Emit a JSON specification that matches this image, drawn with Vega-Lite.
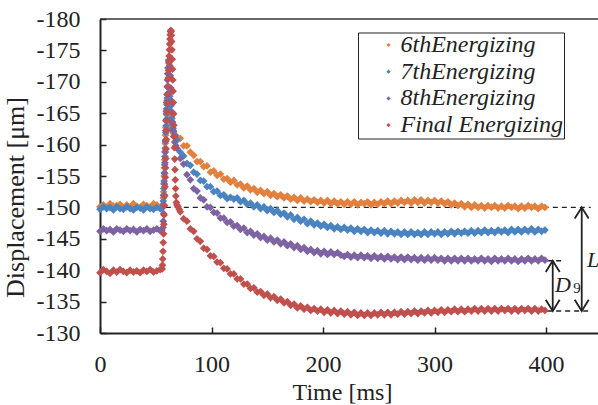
{
  "$schema": "https://vega.github.io/schema/vega-lite/v6.json",
  "width": 498,
  "height": 314,
  "autosize": {"type": "none"},
  "padding": {"left": 100, "top": 19, "right": 0, "bottom": 72},
  "background": "white",
  "config": {
    "view": {"stroke": null},
    "font": "Liberation Serif",
    "axis": {"grid": false, "domainColor": "#222", "domainWidth": 2, "tickColor": "#222", "tickWidth": 1.5, "tickSize": -6, "labelFont": "Liberation Serif", "labelFontSize": 24, "labelColor": "#222", "labelFlush": false, "labelOverlap": false, "titleFont": "Liberation Serif", "titleFontSize": 24, "titleFontWeight": "normal", "titleColor": "#222"}
  },
  "datasets": {
    "s6": [{"t":0,"v":-150.1},{"t":3,"v":-150.4},{"t":6,"v":-150.0},{"t":9,"v":-150.6},{"t":12,"v":-150.2},{"t":15,"v":-150.3},{"t":18,"v":-150.5},{"t":21,"v":-150.0},{"t":24,"v":-150.4},{"t":27,"v":-150.1},{"t":30,"v":-150.6},{"t":33,"v":-150.2},{"t":36,"v":-150.0},{"t":39,"v":-150.5},{"t":42,"v":-150.3},{"t":45,"v":-150.1},{"t":48,"v":-150.6},{"t":51,"v":-150.4},{"t":54,"v":-150.0},
      {"t":55.5,"v":-150.3},{"t":56.5,"v":-150.5},{"t":56.75,"v":-151.5},{"t":57,"v":-152.5},{"t":57.25,"v":-153.8},{"t":57.5,"v":-155.0},{"t":57.75,"v":-156.3},{"t":58,"v":-157.6},{"t":58.25,"v":-158.9},{"t":58.5,"v":-160.2},{"t":58.75,"v":-161.5},{"t":59,"v":-162.7},{"t":59.25,"v":-163.8},{"t":59.5,"v":-164.8},{"t":59.75,"v":-165.7},{"t":60,"v":-166.4},{"t":60.25,"v":-167.0},{"t":60.5,"v":-167.3},{"t":60.75,"v":-167.2},{"t":61,"v":-166.8},{"t":61.5,"v":-166.2},{"t":62,"v":-165.3},{"t":62.5,"v":-164.4},{"t":63,"v":-163.6},{"t":63.5,"v":-163.0},{"t":64,"v":-162.5},{"t":65,"v":-162.1},{"t":66,"v":-161.8},{"t":67.5,"v":-161.5},
      {"t":69,"v":-161.2},{"t":72,"v":-161.0},{"t":75,"v":-159.8},{"t":78,"v":-159.8},{"t":81,"v":-158.8},{"t":84,"v":-158.3},{"t":87,"v":-157.3},{"t":90,"v":-157.3},{"t":93,"v":-156.5},{"t":96,"v":-156.6},{"t":99,"v":-155.6},{"t":102,"v":-155.8},{"t":105,"v":-155.1},{"t":108,"v":-155.3},{"t":111,"v":-154.5},{"t":114,"v":-154.6},{"t":117,"v":-154.0},{"t":120,"v":-154.3},{"t":123,"v":-153.6},{"t":126,"v":-153.7},{"t":129,"v":-153.1},{"t":132,"v":-153.4},{"t":135,"v":-152.8},{"t":138,"v":-153.0},{"t":141,"v":-152.4},{"t":144,"v":-152.7},{"t":147,"v":-152.2},{"t":150,"v":-152.5},{"t":153,"v":-151.9},{"t":156,"v":-152.2},{"t":159,"v":-151.7},{"t":162,"v":-152.0},{"t":165,"v":-151.5},{"t":168,"v":-151.8},{"t":171,"v":-151.3},{"t":174,"v":-151.6},{"t":177,"v":-151.1},{"t":180,"v":-151.5},{"t":183,"v":-151.0},{"t":186,"v":-151.3},{"t":189,"v":-150.9},{"t":192,"v":-151.2},{"t":195,"v":-150.8},{"t":198,"v":-151.1},{"t":201,"v":-150.7},{"t":204,"v":-151.1},{"t":207,"v":-150.6},{"t":210,"v":-151.0},{"t":213,"v":-150.6},{"t":216,"v":-150.9},{"t":219,"v":-150.5},{"t":222,"v":-150.9},{"t":225,"v":-150.5},{"t":228,"v":-150.9},{"t":231,"v":-150.4},{"t":234,"v":-150.8},{"t":237,"v":-150.6},{"t":240,"v":-150.9},{"t":243,"v":-150.4},{"t":246,"v":-150.8},{"t":249,"v":-150.5},{"t":252,"v":-150.9},{"t":255,"v":-150.6},{"t":258,"v":-151.0},{"t":261,"v":-150.6},{"t":264,"v":-151.0},{"t":267,"v":-150.7},{"t":270,"v":-151.1},{"t":273,"v":-150.8},{"t":276,"v":-151.1},{"t":279,"v":-150.7},{"t":282,"v":-151.2},{"t":285,"v":-150.8},{"t":288,"v":-151.2},{"t":291,"v":-150.7},{"t":294,"v":-151.1},{"t":297,"v":-150.8},{"t":300,"v":-151.1},{"t":303,"v":-150.7},{"t":306,"v":-151.0},{"t":309,"v":-150.6},{"t":312,"v":-150.9},{"t":315,"v":-150.4},{"t":318,"v":-150.7},{"t":321,"v":-150.3},{"t":324,"v":-150.6},{"t":327,"v":-150.1},{"t":330,"v":-150.5},{"t":333,"v":-150.0},{"t":336,"v":-150.4},{"t":339,"v":-150.0},{"t":342,"v":-150.3},{"t":345,"v":-149.9},{"t":348,"v":-150.3},{"t":351,"v":-150.0},{"t":354,"v":-150.3},{"t":357,"v":-149.9},{"t":360,"v":-150.2},{"t":363,"v":-149.9},{"t":366,"v":-150.3},{"t":369,"v":-150.0},{"t":372,"v":-150.2},{"t":375,"v":-149.8},{"t":378,"v":-150.2},{"t":381,"v":-149.9},{"t":384,"v":-150.3},{"t":387,"v":-150.0},{"t":390,"v":-150.2},{"t":393,"v":-149.8},{"t":396,"v":-150.2},{"t":399,"v":-150.0}],
    "s7": [{"t":0,"v":-149.7},{"t":3,"v":-150.1},{"t":6,"v":-149.8},{"t":9,"v":-150.0},{"t":12,"v":-149.6},{"t":15,"v":-150.1},{"t":18,"v":-149.8},{"t":21,"v":-149.7},{"t":24,"v":-150.1},{"t":27,"v":-149.8},{"t":30,"v":-149.6},{"t":33,"v":-150.0},{"t":36,"v":-149.9},{"t":39,"v":-149.6},{"t":42,"v":-150.1},{"t":45,"v":-149.8},{"t":48,"v":-149.7},{"t":51,"v":-150.0},{"t":54,"v":-149.8},
      {"t":55.5,"v":-149.9},{"t":56.5,"v":-150.3},{"t":56.75,"v":-151.0},{"t":57,"v":-151.9},{"t":57.25,"v":-153.0},{"t":57.5,"v":-154.2},{"t":57.75,"v":-155.5},{"t":58,"v":-156.8},{"t":58.25,"v":-158.1},{"t":58.5,"v":-159.4},{"t":58.75,"v":-160.7},{"t":59,"v":-161.9},{"t":59.25,"v":-163.0},{"t":59.5,"v":-164.0},{"t":59.75,"v":-164.9},{"t":60,"v":-165.7},{"t":60.25,"v":-166.4},{"t":60.5,"v":-167.0},{"t":60.75,"v":-167.5},{"t":61,"v":-167.9},{"t":61.5,"v":-168.2},{"t":62,"v":-168.1},{"t":62.5,"v":-167.7},{"t":63,"v":-167.1},{"t":63.5,"v":-166.2},{"t":64,"v":-165.2},{"t":64.5,"v":-164.2},{"t":65,"v":-163.3},{"t":65.5,"v":-162.6},{"t":66,"v":-162.1},{"t":67,"v":-161.5},{"t":68,"v":-161.0},
      {"t":69,"v":-160.7},{"t":72,"v":-158.8},{"t":75,"v":-158.2},{"t":78,"v":-157.0},{"t":81,"v":-156.7},{"t":84,"v":-155.6},{"t":87,"v":-155.3},{"t":90,"v":-154.3},{"t":93,"v":-154.2},{"t":96,"v":-153.3},{"t":99,"v":-153.3},{"t":102,"v":-152.5},{"t":105,"v":-152.6},{"t":108,"v":-151.9},{"t":111,"v":-152.0},{"t":114,"v":-151.4},{"t":117,"v":-151.6},{"t":120,"v":-151.3},{"t":123,"v":-151.5},{"t":126,"v":-150.9},{"t":129,"v":-151.1},{"t":132,"v":-150.5},{"t":135,"v":-150.7},{"t":138,"v":-150.1},{"t":141,"v":-150.4},{"t":144,"v":-149.8},{"t":147,"v":-150.1},{"t":150,"v":-149.5},{"t":153,"v":-149.8},{"t":156,"v":-149.2},{"t":159,"v":-149.5},{"t":162,"v":-148.9},{"t":165,"v":-149.1},{"t":168,"v":-148.5},{"t":171,"v":-148.8},{"t":174,"v":-148.1},{"t":177,"v":-148.4},{"t":180,"v":-147.8},{"t":183,"v":-148.1},{"t":186,"v":-147.4},{"t":189,"v":-147.8},{"t":192,"v":-147.2},{"t":195,"v":-147.5},{"t":198,"v":-147.0},{"t":201,"v":-147.3},{"t":204,"v":-146.8},{"t":207,"v":-147.1},{"t":210,"v":-146.6},{"t":213,"v":-146.9},{"t":216,"v":-146.5},{"t":219,"v":-146.8},{"t":222,"v":-146.4},{"t":225,"v":-146.7},{"t":228,"v":-146.2},{"t":231,"v":-146.6},{"t":234,"v":-146.2},{"t":237,"v":-146.5},{"t":240,"v":-146.0},{"t":243,"v":-146.4},{"t":246,"v":-146.0},{"t":249,"v":-146.3},{"t":252,"v":-145.9},{"t":255,"v":-146.3},{"t":258,"v":-145.8},{"t":261,"v":-146.2},{"t":264,"v":-145.8},{"t":267,"v":-146.1},{"t":270,"v":-145.7},{"t":273,"v":-146.1},{"t":276,"v":-145.7},{"t":279,"v":-146.1},{"t":282,"v":-145.7},{"t":285,"v":-146.0},{"t":288,"v":-145.7},{"t":291,"v":-146.1},{"t":294,"v":-145.7},{"t":297,"v":-146.1},{"t":300,"v":-145.8},{"t":303,"v":-146.1},{"t":306,"v":-145.7},{"t":309,"v":-146.1},{"t":312,"v":-145.8},{"t":315,"v":-146.2},{"t":318,"v":-145.8},{"t":321,"v":-146.2},{"t":324,"v":-145.9},{"t":327,"v":-146.2},{"t":330,"v":-145.9},{"t":333,"v":-146.3},{"t":336,"v":-145.9},{"t":339,"v":-146.3},{"t":342,"v":-146.0},{"t":345,"v":-146.4},{"t":348,"v":-146.0},{"t":351,"v":-146.3},{"t":354,"v":-146.0},{"t":357,"v":-146.4},{"t":360,"v":-146.1},{"t":363,"v":-146.4},{"t":366,"v":-146.0},{"t":369,"v":-146.5},{"t":372,"v":-146.1},{"t":375,"v":-146.5},{"t":378,"v":-146.1},{"t":381,"v":-146.5},{"t":384,"v":-146.2},{"t":387,"v":-146.6},{"t":390,"v":-146.1},{"t":393,"v":-146.5},{"t":396,"v":-146.2},{"t":399,"v":-146.4}],
    "s8": [{"t":0,"v":-146.2},{"t":3,"v":-146.6},{"t":6,"v":-146.3},{"t":9,"v":-146.5},{"t":12,"v":-146.1},{"t":15,"v":-146.6},{"t":18,"v":-146.4},{"t":21,"v":-146.2},{"t":24,"v":-146.6},{"t":27,"v":-146.3},{"t":30,"v":-146.5},{"t":33,"v":-146.1},{"t":36,"v":-146.5},{"t":39,"v":-146.3},{"t":42,"v":-146.6},{"t":45,"v":-146.2},{"t":48,"v":-146.4},{"t":51,"v":-146.6},{"t":54,"v":-146.3},
      {"t":55.5,"v":-146.4},{"t":56.5,"v":-146.8},{"t":56.75,"v":-147.8},{"t":57,"v":-149.0},{"t":57.25,"v":-150.4},{"t":57.5,"v":-152.0},{"t":57.75,"v":-153.7},{"t":58,"v":-155.4},{"t":58.25,"v":-157.1},{"t":58.5,"v":-158.8},{"t":58.75,"v":-160.5},{"t":59,"v":-162.2},{"t":59.25,"v":-163.8},{"t":59.5,"v":-165.3},{"t":59.75,"v":-166.7},{"t":60,"v":-168.0},{"t":60.25,"v":-169.2},{"t":60.5,"v":-170.3},{"t":60.75,"v":-171.3},{"t":61,"v":-172.2},{"t":61.5,"v":-173.3},{"t":62,"v":-173.5},{"t":62.5,"v":-172.6},{"t":63,"v":-171.0},{"t":63.5,"v":-169.0},{"t":64,"v":-167.0},{"t":64.5,"v":-165.2},{"t":65,"v":-163.6},{"t":65.5,"v":-162.3},{"t":66,"v":-161.3},{"t":67,"v":-160.4},{"t":68,"v":-159.8},
      {"t":69,"v":-159.4},{"t":72,"v":-157.8},{"t":75,"v":-156.9},{"t":78,"v":-155.2},{"t":81,"v":-154.4},{"t":84,"v":-153.0},{"t":87,"v":-152.6},{"t":90,"v":-151.5},{"t":93,"v":-151.2},{"t":96,"v":-150.1},{"t":99,"v":-150.0},{"t":102,"v":-149.2},{"t":105,"v":-149.1},{"t":108,"v":-148.3},{"t":111,"v":-148.3},{"t":114,"v":-147.6},{"t":117,"v":-147.7},{"t":120,"v":-147.0},{"t":123,"v":-147.1},{"t":126,"v":-146.5},{"t":129,"v":-146.7},{"t":132,"v":-146.0},{"t":135,"v":-146.2},{"t":138,"v":-145.6},{"t":141,"v":-145.8},{"t":144,"v":-145.2},{"t":147,"v":-145.4},{"t":150,"v":-144.8},{"t":153,"v":-145.1},{"t":156,"v":-144.5},{"t":159,"v":-144.8},{"t":162,"v":-144.2},{"t":165,"v":-144.5},{"t":168,"v":-143.9},{"t":171,"v":-144.2},{"t":174,"v":-143.6},{"t":177,"v":-143.9},{"t":180,"v":-143.3},{"t":183,"v":-143.6},{"t":186,"v":-143.0},{"t":189,"v":-143.3},{"t":192,"v":-142.8},{"t":195,"v":-143.1},{"t":198,"v":-142.6},{"t":201,"v":-143.0},{"t":204,"v":-142.5},{"t":207,"v":-142.9},{"t":210,"v":-142.5},{"t":213,"v":-142.8},{"t":216,"v":-142.4},{"t":219,"v":-142.2},{"t":222,"v":-142.5},{"t":225,"v":-142.1},{"t":228,"v":-142.4},{"t":231,"v":-142.0},{"t":234,"v":-142.4},{"t":237,"v":-142.0},{"t":240,"v":-142.3},{"t":243,"v":-141.9},{"t":246,"v":-142.3},{"t":249,"v":-141.9},{"t":252,"v":-142.2},{"t":255,"v":-141.8},{"t":258,"v":-142.2},{"t":261,"v":-141.8},{"t":264,"v":-142.1},{"t":267,"v":-141.7},{"t":270,"v":-142.1},{"t":273,"v":-141.7},{"t":276,"v":-142.1},{"t":279,"v":-141.7},{"t":282,"v":-142.0},{"t":285,"v":-141.6},{"t":288,"v":-142.0},{"t":291,"v":-141.6},{"t":294,"v":-142.0},{"t":297,"v":-141.6},{"t":300,"v":-142.0},{"t":303,"v":-141.6},{"t":306,"v":-141.9},{"t":309,"v":-141.5},{"t":312,"v":-141.9},{"t":315,"v":-141.5},{"t":318,"v":-141.9},{"t":321,"v":-141.5},{"t":324,"v":-141.9},{"t":327,"v":-141.5},{"t":330,"v":-141.9},{"t":333,"v":-141.5},{"t":336,"v":-141.8},{"t":339,"v":-141.5},{"t":342,"v":-141.9},{"t":345,"v":-141.5},{"t":348,"v":-141.8},{"t":351,"v":-141.4},{"t":354,"v":-141.9},{"t":357,"v":-141.5},{"t":360,"v":-141.8},{"t":363,"v":-141.5},{"t":366,"v":-141.9},{"t":369,"v":-141.5},{"t":372,"v":-141.8},{"t":375,"v":-141.4},{"t":378,"v":-141.8},{"t":381,"v":-141.5},{"t":384,"v":-141.9},{"t":387,"v":-141.5},{"t":390,"v":-141.8},{"t":393,"v":-141.5},{"t":396,"v":-141.9},{"t":399,"v":-141.6}],
    "sF": [{"t":0,"v":-139.6},{"t":3,"v":-140.1},{"t":6,"v":-139.8},{"t":9,"v":-139.5},{"t":12,"v":-140.0},{"t":15,"v":-139.7},{"t":18,"v":-140.1},{"t":21,"v":-139.8},{"t":24,"v":-139.6},{"t":27,"v":-140.0},{"t":30,"v":-139.7},{"t":33,"v":-139.9},{"t":36,"v":-139.6},{"t":39,"v":-140.0},{"t":42,"v":-139.8},{"t":45,"v":-140.1},{"t":48,"v":-139.7},{"t":51,"v":-139.9},{"t":54,"v":-140.1},
      {"t":55.75,"v":-140.2},{"t":56,"v":-140.8},{"t":56.25,"v":-141.8},{"t":56.5,"v":-143.0},{"t":56.75,"v":-144.4},{"t":57,"v":-145.8},{"t":57.25,"v":-147.3},{"t":57.5,"v":-148.8},{"t":57.75,"v":-150.3},{"t":58,"v":-151.8},{"t":58.25,"v":-153.3},{"t":58.5,"v":-154.8},{"t":58.75,"v":-156.3},{"t":59,"v":-157.8},{"t":59.25,"v":-159.3},{"t":59.5,"v":-160.8},{"t":59.75,"v":-162.3},{"t":60,"v":-163.8},{"t":60.25,"v":-165.2},{"t":60.5,"v":-166.6},{"t":60.75,"v":-168.0},{"t":61,"v":-169.3},{"t":61.25,"v":-170.6},{"t":61.5,"v":-171.8},{"t":61.75,"v":-173.0},{"t":62,"v":-174.1},{"t":62.25,"v":-175.1},{"t":62.5,"v":-176.0},{"t":62.75,"v":-176.8},{"t":63,"v":-177.5},{"t":63.25,"v":-178.0},{"t":63.5,"v":-178.2},{"t":63.75,"v":-178.0},{"t":64,"v":-177.4},{"t":64.25,"v":-176.4},{"t":64.5,"v":-175.1},{"t":64.75,"v":-173.6},{"t":65,"v":-172.0},{"t":65.25,"v":-170.3},{"t":65.5,"v":-168.5},{"t":65.75,"v":-166.7},{"t":66,"v":-164.9},{"t":66.25,"v":-163.1},{"t":66.5,"v":-161.3},{"t":66.75,"v":-159.5},{"t":67,"v":-157.7},{"t":67.25,"v":-156.0},{"t":67.5,"v":-154.4},{"t":67.75,"v":-153.0},{"t":68,"v":-151.8},{"t":68.5,"v":-150.8},{"t":69,"v":-150.4},{"t":70,"v":-150.1},{"t":71,"v":-149.7},
      {"t":72,"v":-149.3},{"t":75,"v":-148.2},{"t":78,"v":-147.8},{"t":81,"v":-146.6},{"t":84,"v":-146.2},{"t":87,"v":-145.0},{"t":90,"v":-144.6},{"t":93,"v":-143.5},{"t":96,"v":-143.3},{"t":99,"v":-142.3},{"t":102,"v":-142.2},{"t":105,"v":-141.3},{"t":108,"v":-141.2},{"t":111,"v":-140.3},{"t":114,"v":-140.2},{"t":117,"v":-139.4},{"t":120,"v":-139.4},{"t":123,"v":-138.6},{"t":126,"v":-138.6},{"t":129,"v":-137.8},{"t":132,"v":-137.8},{"t":135,"v":-137.1},{"t":138,"v":-137.2},{"t":141,"v":-136.5},{"t":144,"v":-136.6},{"t":147,"v":-136.0},{"t":150,"v":-136.2},{"t":153,"v":-135.6},{"t":156,"v":-135.8},{"t":159,"v":-135.2},{"t":162,"v":-135.4},{"t":165,"v":-134.8},{"t":168,"v":-135.0},{"t":171,"v":-134.4},{"t":174,"v":-134.6},{"t":177,"v":-134.0},{"t":180,"v":-134.3},{"t":183,"v":-133.8},{"t":186,"v":-134.1},{"t":189,"v":-133.6},{"t":192,"v":-133.9},{"t":195,"v":-133.5},{"t":198,"v":-133.8},{"t":201,"v":-133.3},{"t":204,"v":-133.7},{"t":207,"v":-133.2},{"t":210,"v":-133.6},{"t":213,"v":-133.1},{"t":216,"v":-133.5},{"t":219,"v":-133.0},{"t":222,"v":-133.4},{"t":225,"v":-132.9},{"t":228,"v":-133.3},{"t":231,"v":-132.8},{"t":234,"v":-133.2},{"t":237,"v":-132.8},{"t":240,"v":-133.2},{"t":243,"v":-132.8},{"t":246,"v":-133.2},{"t":249,"v":-132.9},{"t":252,"v":-133.3},{"t":255,"v":-132.9},{"t":258,"v":-133.3},{"t":261,"v":-132.9},{"t":264,"v":-133.3},{"t":267,"v":-133.0},{"t":270,"v":-133.4},{"t":273,"v":-133.0},{"t":276,"v":-133.4},{"t":279,"v":-133.1},{"t":282,"v":-133.5},{"t":285,"v":-133.1},{"t":288,"v":-133.5},{"t":291,"v":-133.2},{"t":294,"v":-133.6},{"t":297,"v":-133.2},{"t":300,"v":-133.6},{"t":303,"v":-133.3},{"t":306,"v":-133.7},{"t":309,"v":-133.3},{"t":312,"v":-133.7},{"t":315,"v":-133.4},{"t":318,"v":-133.8},{"t":321,"v":-133.4},{"t":324,"v":-133.8},{"t":327,"v":-133.4},{"t":330,"v":-133.8},{"t":333,"v":-133.5},{"t":336,"v":-133.9},{"t":339,"v":-133.5},{"t":342,"v":-133.9},{"t":345,"v":-133.5},{"t":348,"v":-133.9},{"t":351,"v":-133.5},{"t":354,"v":-133.9},{"t":357,"v":-133.5},{"t":360,"v":-133.9},{"t":363,"v":-133.6},{"t":366,"v":-133.9},{"t":369,"v":-133.5},{"t":372,"v":-133.9},{"t":375,"v":-133.5},{"t":378,"v":-133.9},{"t":381,"v":-133.6},{"t":384,"v":-133.9},{"t":387,"v":-133.5},{"t":390,"v":-133.9},{"t":393,"v":-133.5},{"t":396,"v":-133.8},{"t":399,"v":-133.6}],
    "guides": [{"t1": 59, "t2": 440, "v": -150}, {"t1": 401, "t2": 415, "v": -141.5}, {"t1": 401, "t2": 440, "v": -133.5}],
    "frame": [{"v": -180}],
    "shafts": [{"t": 432, "v1": -150, "v2": -133.5}, {"t": 406, "v1": -141.5, "v2": -133.5}],
    "heads": [{"t": 432, "v": -150, "dir": "up"}, {"t": 432, "v": -133.5, "dir": "down"}, {"t": 406, "v": -141.5, "dir": "up"}, {"t": 406, "v": -133.5, "dir": "down"}],
    "labels": [{"t": 436.8, "v": -141.7, "label": "L"}, {"t": 408, "v": -137.6, "label": "D"}],
    "subs": [{"t": 424.5, "v": -137.2, "label": "9"}]
  },
  "encoding": {
    "x": {"field": "t", "type": "quantitative", "scale": {"domain": [0, 446.6], "nice": false, "zero": false}, "axis": {"values": [0, 100, 200, 300, 400], "title": "Time [ms]", "labelPadding": 25, "titleBaseline": "alphabetic", "titleY": 66, "titleX": 242}},
    "y": {"field": "v", "type": "quantitative", "scale": {"domain": [-180, -130], "reverse": true, "nice": false, "zero": false}, "axis": {"values": [-180, -175, -170, -165, -160, -155, -150, -145, -140, -135, -130], "title": "Displacement [μm]", "titleFontSize": 26, "labelPadding": 26, "labelExpr": "toString(datum.value)", "titleBaseline": "alphabetic", "titleX": -77, "titleY": 178, "titleAngle": -90, "titleAlign": "center"}}
  },
  "layer": [
    {"data": {"name": "guides"}, "mark": {"type": "rule", "color": "#222", "strokeWidth": 1.4, "strokeDash": [5, 4]}, "encoding": {"x": {"field": "t1", "type": "quantitative"}, "x2": {"field": "t2"}}},
    {"data": {"name": "frame"}, "mark": {"type": "rule", "color": "#333", "strokeWidth": 1.5}, "encoding": {"x": null}},
    {"data": {"name": "s6"}, "mark": {"type": "point", "shape": "diamond", "filled": true, "opacity": 1, "size": 60},
     "encoding": {"color": {"datum": "6thEnergizing", "type": "nominal",
        "scale": {"domain": ["6thEnergizing", "7thEnergizing", "8thEnergizing", "Final Energizing"], "range": ["#E2803F", "#4A84C0", "#7E63A3", "#C0504D"]},
        "legend": {"title": null, "orient": "none", "legendX": 258, "legendY": 13.5, "strokeColor": "#222", "fillColor": "white", "padding": 0.5, "symbolType": "diamond", "symbolSize": 18, "symbolOffset": 18, "labelOffset": 0, "labelFont": "Liberation Serif", "labelFontStyle": "italic", "labelFontSize": 24, "labelColor": "#222", "rowPadding": 2.7, "labelLimit": 400, "labelExpr": "datum.label + '\u00a0\u00a0\u00a0\u00a0\u00a0\u00a0\u00a0\u00a0\u00a0'"}}}},
    {"data": {"name": "s7"}, "mark": {"type": "point", "shape": "diamond", "filled": true, "opacity": 1, "size": 60}, "encoding": {"color": {"datum": "7thEnergizing", "type": "nominal"}}},
    {"data": {"name": "s8"}, "mark": {"type": "point", "shape": "diamond", "filled": true, "opacity": 1, "size": 60}, "encoding": {"color": {"datum": "8thEnergizing", "type": "nominal"}}},
    {"data": {"name": "sF"}, "mark": {"type": "point", "shape": "diamond", "filled": true, "opacity": 1, "size": 60}, "encoding": {"color": {"datum": "Final Energizing", "type": "nominal"}}},
    {"data": {"name": "shafts"}, "mark": {"type": "rule", "color": "#222", "strokeWidth": 1.8}, "encoding": {"y": {"field": "v1", "type": "quantitative"}, "y2": {"field": "v2"}}},
    {"data": {"name": "heads"}, "mark": {"type": "point", "filled": false, "color": "#222", "strokeWidth": 1.8, "opacity": 1, "size": 196}, "encoding": {"shape": {"field": "dir", "type": "nominal", "scale": {"domain": ["up", "down"], "range": ["M-1,1.6L0,0L1,1.6", "M-1,-1.6L0,0L1,-1.6"]}, "legend": null}}},
    {"data": {"name": "labels"}, "mark": {"type": "text", "font": "Liberation Serif", "fontStyle": "italic", "fontSize": 22, "align": "left", "baseline": "middle", "color": "#222"}, "encoding": {"text": {"field": "label"}}},
    {"data": {"name": "subs"}, "mark": {"type": "text", "font": "Liberation Serif", "fontSize": 15, "align": "left", "baseline": "middle", "color": "#222"}, "encoding": {"text": {"field": "label"}}}
  ]
}
